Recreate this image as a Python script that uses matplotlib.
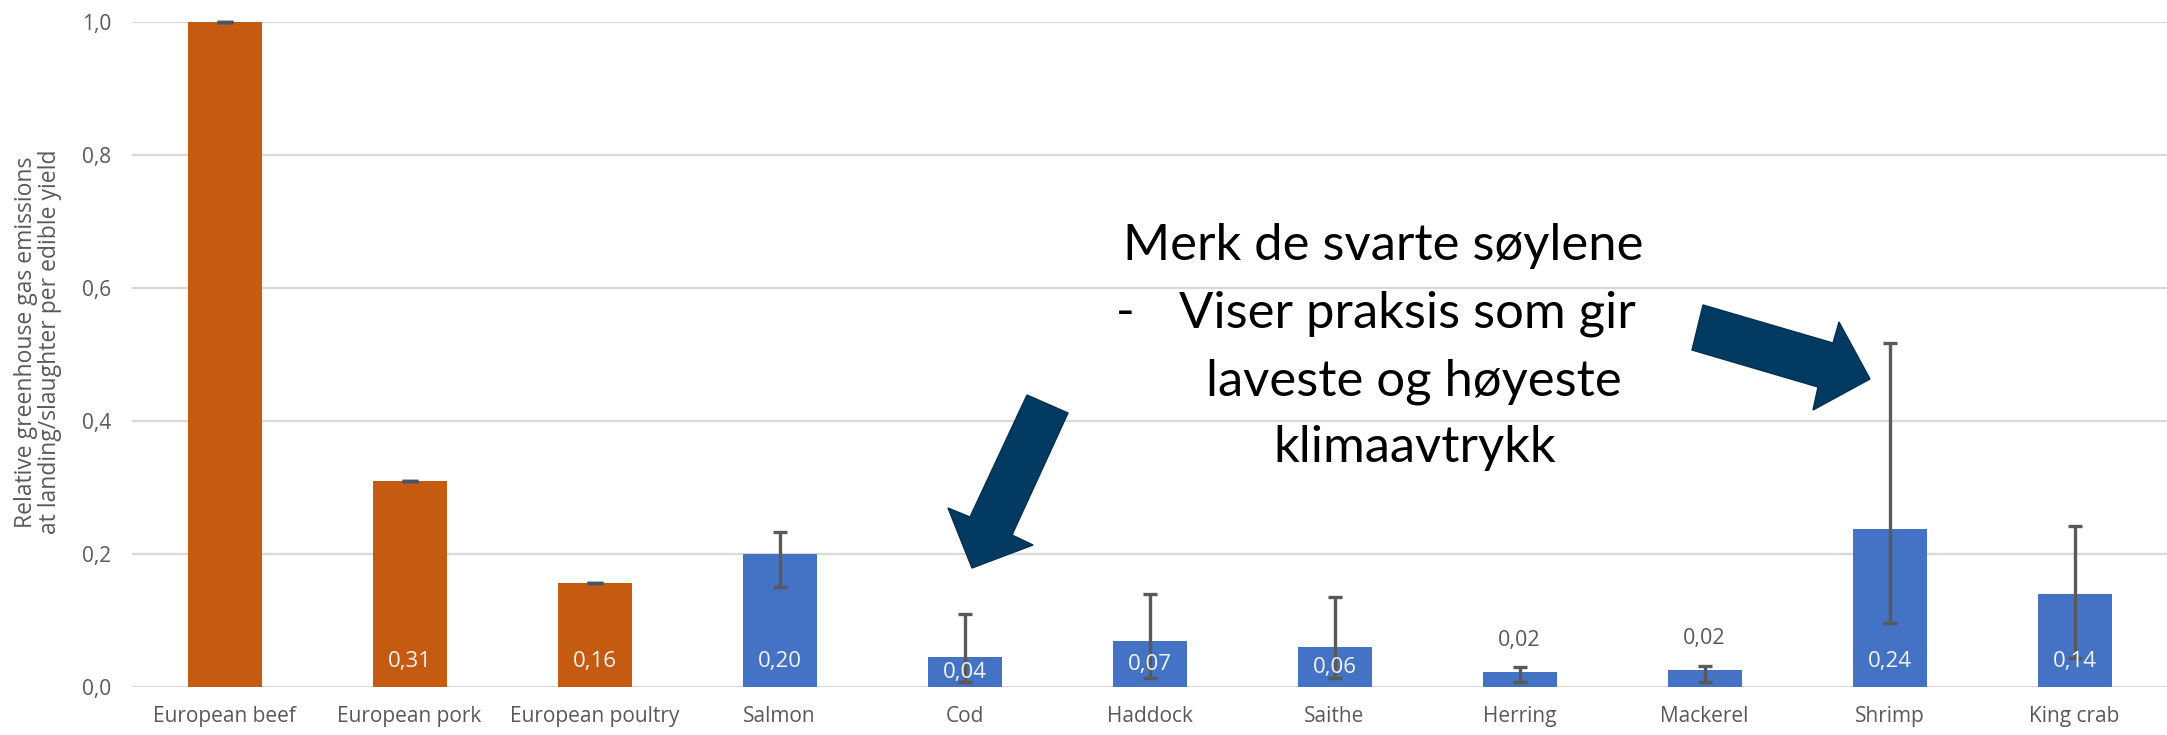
import matplotlib
matplotlib.use("Agg")
import matplotlib.pyplot as plt
from matplotlib.patches import Polygon
import numpy as np

# data
categories = ['European beef', 'European pork', 'European poultry', 'Salmon', 'Cod',
              'Haddock', 'Saithe', 'Herring', 'Mackerel', 'Shrimp', 'King crab']
values = [1.0, 0.31, 0.157, 0.20, 0.045, 0.069, 0.06, 0.022, 0.025, 0.237, 0.14]
err_low = [1.0, 0.31, 0.157, 0.15, 0.008, 0.014, 0.014, 0.008, 0.008, 0.096, 0.044]
err_high = [1.0, 0.31, 0.157, 0.233, 0.11, 0.14, 0.135, 0.03, 0.032, 0.517, 0.242]
value_labels = ['', '0,31', '0,16', '0,20', '0,04', '0,07', '0,06', '0,02', '0,02', '0,24', '0,14']
is_meat = [True, True, True, False, False, False, False, False, False, False, False]
outside_label = [False] * 7 + [True, True] + [False, False]

ORANGE = '#C55A11'
BLUE = '#4472C4'
GREY = '#595959'
NAVY = '#033A62'

W, H = 2167, 735
fig = plt.figure(figsize=(W / 100, H / 100), dpi=100)
ax = fig.add_axes([132 / W, 1 - 687 / H, (W - 132) / W, (687 - 22) / H])

x = np.arange(len(categories))
colors = [ORANGE if m else BLUE for m in is_meat]
ax.bar(x, values, width=0.40, color=colors, zorder=2)

vals = np.array(values)
lo = vals - np.array(err_low)
hi = np.array(err_high) - vals
meat = np.array(is_meat)
ax.errorbar(x[meat], vals[meat], yerr=[lo[meat], hi[meat]], fmt='none',
            ecolor='#44546A', elinewidth=2, capsize=6, capthick=2.5, zorder=3, clip_on=False)
ax.errorbar(x[~meat], vals[~meat], yerr=[lo[~meat], hi[~meat]], fmt='none',
            ecolor=GREY, elinewidth=2.4, capsize=5, capthick=2.4, zorder=3)

for i, lab in enumerate(value_labels):
    if not lab:
        continue
    if outside_label[i]:
        ax.text(x[i], values[i] + 0.048, lab, ha='center', va='center',
                fontsize=15.5, color=GREY, family='Open Sans', zorder=4)
    else:
        ax.text(x[i], min(0.038, values[i] / 2), lab, ha='center', va='center',
                fontsize=16, color='#F4F4F4', family='Open Sans', zorder=4)

ax.set_xlim(-0.5, len(categories) - 0.5)
ax.set_ylim(0, 1.0)
yt = np.arange(0, 1.01, 0.2)
ax.set_yticks(yt)
ax.set_yticklabels([f'{v:.1f}'.replace('.', ',') for v in yt])
ax.set_xticks(x)
ax.set_xticklabels(categories)
for lab in ax.get_xticklabels() + ax.get_yticklabels():
    lab.set_family('Open Sans')
    lab.set_fontsize(15)
    lab.set_color(GREY)
ax.tick_params(axis='both', length=0)
ax.tick_params(axis='y', pad=15)
ax.tick_params(axis='x', pad=14)
ax.yaxis.grid(True, color='#D9D9D9', linewidth=1.6, zorder=0)
ax.set_axisbelow(True)
for s in ax.spines.values():
    s.set_visible(False)

# overlay in pixel coordinates for the annotation
ov = fig.add_axes([0, 0, 1, 1], zorder=5)
ov.set_xlim(0, W)
ov.set_ylim(H, 0)
ov.axis('off')
ov.patch.set_alpha(0)

ov.text(38, 342, 'Relative greenhouse gas emissions\nat landing/slaughter per edible yield',
        rotation=90, ha='center', va='center', fontsize=16.5, color=GREY,
        family='Open Sans', linespacing=1.05)

left_arrow = [(1027, 395), (1068, 413), (1012, 535), (1033, 545), (972, 568), (948, 508), (970, 517)]
right_arrow = [(1703, 305), (1833, 343), (1839, 322), (1870, 379), (1813, 410), (1818, 387), (1692, 350)]
for pts in (left_arrow, right_arrow):
    ov.add_patch(Polygon(pts, closed=True, facecolor=NAVY, edgecolor='#02304F', linewidth=1))

tfont = dict(family='Lato', fontsize=36.5, color='black', va='baseline')
ov.text(1383, 260, 'Merk de svarte søylene', ha='center', **tfont)
ov.text(1116, 327, '-', ha='left', **tfont)
ov.text(1179, 327, 'Viser praksis som gir', ha='left', **tfont)
ov.text(1414, 395, 'laveste og høyeste', ha='center', **tfont)
ov.text(1415, 462, 'klimaavtrykk', ha='center', **tfont)

fig.savefig('out.png', dpi=100)
